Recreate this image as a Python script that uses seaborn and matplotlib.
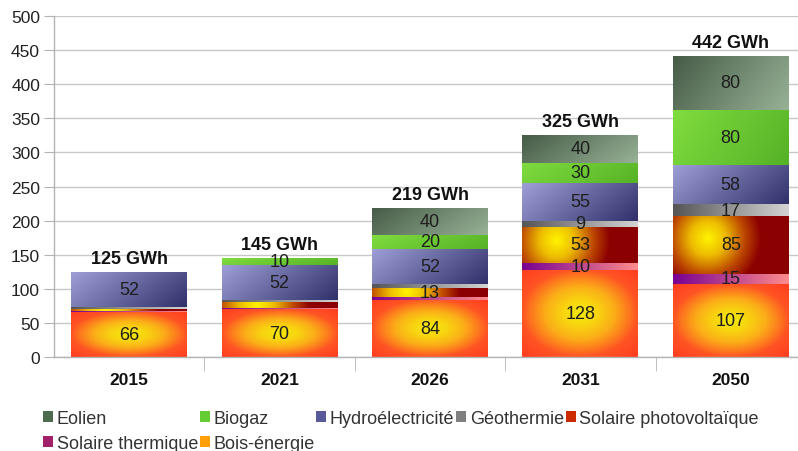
import numpy as np
import pandas as pd
import matplotlib
matplotlib.use("Agg")
import matplotlib.pyplot as plt
import seaborn as sns
from matplotlib.colors import to_rgb
from matplotlib.patches import Patch

# ---------------- data ----------------
years = ["2015", "2021", "2026", "2031", "2050"]
eolien = [0, 0, 40, 40, 80]
biogaz = [0, 10, 20, 30, 80]
hydroelectricite = [52, 52, 52, 55, 58]
geothermie = [2, 3, 6, 9, 17]
solaire_pv = [3, 8, 13, 53, 85]
solaire_thermique = [2, 2, 4, 10, 15]
bois_energie = [66, 70, 84, 128, 107]

series_names = ["Eolien", "Biogaz", "Hydroélectricité", "Géothermie",
                "Solaire photovoltaïque", "Solaire thermique", "Bois-énergie"]
series_values = [eolien, biogaz, hydroelectricite, geothermie,
                 solaire_pv, solaire_thermique, bois_energie]
series = dict(zip(series_names, series_values))

df = pd.DataFrame(
    [(y, name, v) for name, vals in series.items() for y, v in zip(years, vals)],
    columns=["Année", "Source", "GWh"],
)
totals = df.groupby("Année", sort=False)["GWh"].sum()

# ---------------- styles ----------------
sns.set_style("white")
plt.rcParams["font.family"] = ["Liberation Sans", "DejaVu Sans"]

base_colors = {
    "Eolien": "#4f6b4f",
    "Biogaz": "#66c832",
    "Hydroélectricité": "#5c5c9c",
    "Géothermie": "#828282",
    "Solaire photovoltaïque": "#c83a06",
    "Solaire thermique": "#a0226e",
    "Bois-énergie": "#fca414",
}


def ramp(t, stops):
    pos = np.array([s[0] for s in stops])
    cols = np.array([to_rgb(s[1]) for s in stops])
    t = np.clip(t, 0, pos[-1])
    return np.stack([np.interp(t, pos, cols[:, k]) for k in range(3)], axis=-1)


def g_eolien(U, V, a):
    t = (U + 0.35 * (1 - V)) / 1.35
    return ramp(t, [(0, "#465b46"), (1, "#97b297")])


def g_biogaz(U, V, a):
    t = (U + 0.3 * (1 - V)) / 1.3
    return ramp(t, [(0, "#80dc3e"), (1, "#56b226")])


def g_hydro(U, V, a):
    t = (U + 0.4 * (1 - V)) / 1.4
    return ramp(t, [(0, "#a0a0d8"), (1, "#30306a")])


def g_geo(U, V, a):
    return ramp(U, [(0, "#555555"), (1, "#d4d4d4")])


def g_pv(U, V, a):
    d = np.sqrt((U - 0.3) ** 2 + ((V - 0.62) * a) ** 2)
    return ramp(d, [(0, "#fff400"), (0.15, "#edbc00"), (0.32, "#bc4600"),
                    (0.46, "#8b0000"), (1, "#8b0000")])


def g_st(U, V, a):
    return ramp(U, [(0, "#780092"), (1, "#ff8c8c")])


def g_bois(U, V, a):
    d = np.sqrt(((U - 0.5) * 2) ** 2 + ((V - 0.5) * 2) ** 2)
    return ramp(d, [(0, "#f4ea0a"), (0.3, "#f8d410"), (0.6, "#fbae18"),
                    (0.85, "#fd781e"), (1.0, "#ff5424"), (1.42, "#ff3c20")])


grad_funcs = {
    "Eolien": g_eolien, "Biogaz": g_biogaz, "Hydroélectricité": g_hydro,
    "Géothermie": g_geo, "Solaire photovoltaïque": g_pv,
    "Solaire thermique": g_st, "Bois-énergie": g_bois,
}

# ---------------- figure ----------------
fig = plt.figure(figsize=(7.98, 4.52), dpi=100)
ax = fig.add_axes([54 / 798, 94 / 452, 752 / 798, 341 / 452])

sns.histplot(data=df, x="Année", hue="Source", weights="GWh",
             multiple="stack", hue_order=series_names, palette=base_colors,
             discrete=True, shrink=0.77, linewidth=0, alpha=1,
             legend=False, ax=ax)

ax.set_xlim(-0.5, 4.5)
ax.set_ylim(0, 500)
ax.set_autoscale_on(False)

color_to_name = {tuple(np.round(to_rgb(c), 3)): n for n, c in base_colors.items()}

for patch in list(ax.patches):
    name = color_to_name.get(tuple(np.round(patch.get_facecolor()[:3], 3)))
    if name is None:
        continue
    x0, y0 = patch.get_x(), patch.get_y()
    w, h = patch.get_width(), patch.get_height()
    if h <= 0:
        continue
    (px0, py0), (px1, py1) = ax.transData.transform([(x0, y0), (x0 + w, y0 + h)])
    wpx, hpx = abs(px1 - px0), abs(py1 - py0)
    nx, ny = 160, max(int(hpx * 2), 4)
    U, V = np.meshgrid(np.linspace(0, 1, nx), np.linspace(0, 1, ny))
    rgb = grad_funcs[name](U, V, hpx / wpx)
    im = ax.imshow(rgb, extent=[x0, x0 + w, y0, y0 + h], origin="lower",
                   aspect="auto", interpolation="bilinear",
                   zorder=patch.get_zorder() + 0.1)
    im.set_clip_path(patch)
    idx = int(round(x0 + w / 2))
    val = series[name][idx]
    if val >= 9:
        ax.text(x0 + w / 2, y0 + h / 2, f"{val}", ha="center", va="center",
                fontsize=13, color="#1e1e1e", zorder=5)

for i, yr in enumerate(years):
    tot = totals[yr]
    ax.annotate(f"{tot} GWh", (i, tot), xytext=(0, 3.5), textcoords="offset points",
                ha="center", va="bottom", fontsize=13, fontweight="bold",
                color="#111111", zorder=6)

ax.set_xlim(-0.5, 4.5)
ax.set_ylim(0, 500)

# axes styling
ax.set_xlabel("")
ax.set_ylabel("")
ax.set_yticks(range(0, 501, 50))
ax.tick_params(axis="y", length=7, color="#b3b3b3", labelsize=12.5,
               labelcolor="#222222", pad=3, left=True)
ax.set_xticks(range(len(years)))
ax.set_xticklabels(years, fontweight="bold", fontsize=12.5, color="#111111")
ax.tick_params(axis="x", which="major", length=0, pad=11)
ax.set_xticks([0.5, 1.5, 2.5, 3.5], minor=True)
ax.tick_params(axis="x", which="minor", length=10, color="#b3b3b3", bottom=True)
ax.yaxis.grid(True, color="#c8c8c8", lw=1)
ax.xaxis.grid(False)
ax.set_axisbelow(True)
for s in ["top", "right"]:
    ax.spines[s].set_visible(False)
for s in ["left", "bottom"]:
    ax.spines[s].set_color("#b3b3b3")
    ax.spines[s].set_linewidth(1)

legend_colors = {
    "Eolien": "#4d6b4d", "Biogaz": "#66cc33", "Hydroélectricité": "#5a5a9a",
    "Géothermie": "#7f7f7f", "Solaire photovoltaïque": "#cc2a00",
    "Solaire thermique": "#a0206a", "Bois-énergie": "#ffa00a",
}
leg_order = ["Eolien", "Solaire thermique", "Biogaz", "Bois-énergie",
             "Hydroélectricité", "Géothermie", "Solaire photovoltaïque"]
handles = [Patch(facecolor=legend_colors[n], edgecolor="none") for n in leg_order]
fig.legend(handles, leg_order, loc="upper left",
           bbox_to_anchor=(43 / 798, 1 - 411 / 452), ncol=5, frameon=False,
           fontsize=13, handlelength=0.55, handleheight=0.55,
           handletextpad=0.2, columnspacing=0.1, labelspacing=0.45,
           borderpad=0, borderaxespad=0, labelcolor="#333333")

fig.savefig("out.png", dpi=100)
